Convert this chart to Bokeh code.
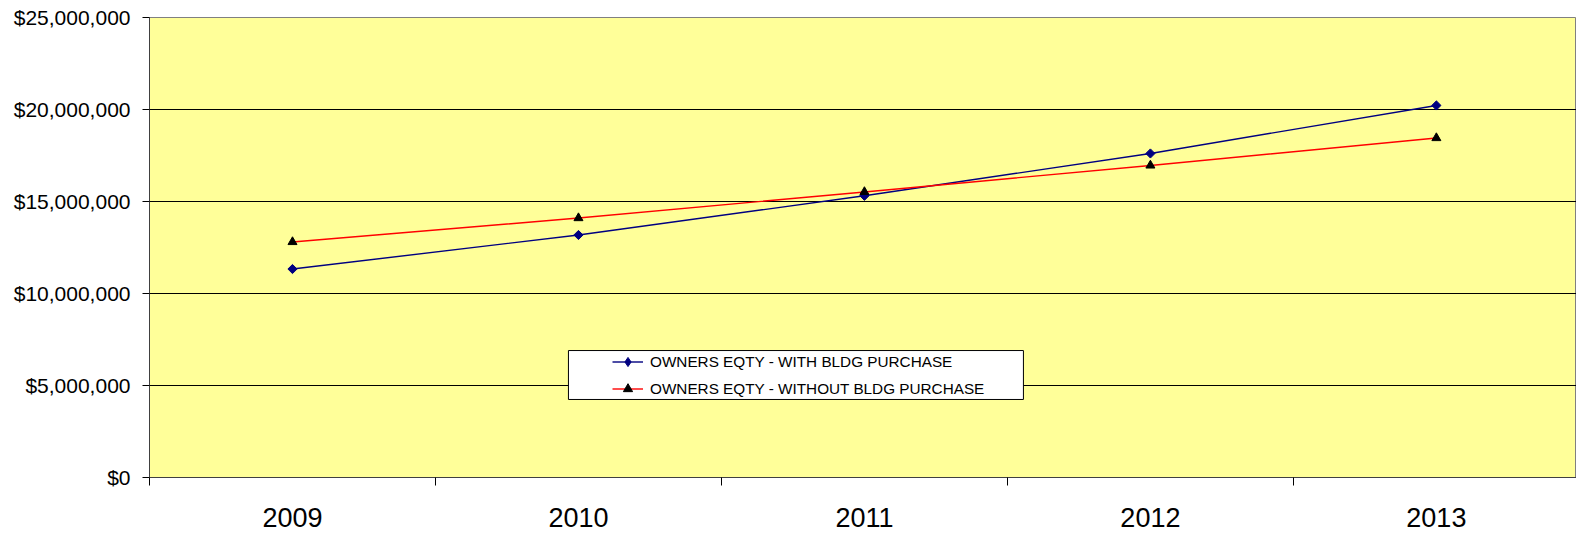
import math
from bokeh.plotting import figure
from bokeh.models import (Range1d, FixedTicker, NumeralTickFormatter, Legend, LegendItem,
                          BoxAnnotation)
from bokeh.embed import file_html
from bokeh.resources import INLINE

years = ["2009", "2010", "2011", "2012", "2013"]
with_bldg = [11330000, 13180000, 15310000, 17610000, 20220000]
without_bldg = [12800000, 14100000, 15520000, 16960000, 18450000]
y_ticks = [0, 5000000, 10000000, 15000000, 20000000, 25000000]

xs = [i + 0.5 for i in range(len(years))]

p = figure(width=1576, height=535, output_backend="svg", toolbar_location=None,
           x_range=Range1d(0, 4.99), y_range=Range1d(0, 25000000),
           min_border_left=149, min_border_right=0, min_border_top=17, min_border_bottom=58)
p.background_fill_color = "#FFFF99"
p.border_fill_color = "white"
p.outline_line_color = "#808080"

# x axis: labels at centers, tick marks at category boundaries (minor ticks)
xa = p.xaxis[0]
xa.ticker = FixedTicker(ticks=xs, minor_ticks=list(range(len(years) + 1)))
xa.major_label_overrides = {x: y for x, y in zip(xs, years)}
xa.major_tick_line_color = None
xa.minor_tick_in = 0
xa.minor_tick_out = 8
xa.minor_tick_line_color = "black"
xa.axis_line_color = "#404040"
xa.major_label_text_font = "Liberation Sans"
xa.major_label_text_font_size = "27px"
xa.major_label_text_color = "black"
xa.major_label_standoff = 22

ya = p.yaxis[0]
ya.ticker = FixedTicker(ticks=y_ticks, minor_ticks=[])
ya.formatter = NumeralTickFormatter(format="$0,0")
ya.major_tick_in = 0
ya.major_tick_out = 7
ya.major_tick_line_color = "black"
ya.axis_line_color = "#404040"
ya.major_label_text_font = "Liberation Sans"
ya.major_label_text_font_size = "21px"
ya.major_label_text_color = "black"
ya.major_label_standoff = 12

p.xgrid.grid_line_color = None
p.ygrid.ticker = FixedTicker(ticks=y_ticks[1:-1])
p.ygrid.grid_line_color = "black"
p.ygrid.grid_line_width = 1

l1 = p.line(xs, with_bldg, line_color="#000080", line_width=1.4)
# diamond used as the legend key (hidden beneath the first data marker)
m1_key = p.scatter(xs[:1], with_bldg[:1], marker="diamond", size=8,
                   fill_color="#000080", line_color="#000080")
m1 = p.scatter(xs, with_bldg, marker="square", size=6.5, angle=math.pi / 4,
               fill_color="#000080", line_color="#000080")
l2 = p.line(xs, without_bldg, line_color="#FF0000", line_width=1.4)
m2 = p.scatter(xs, without_bldg, marker="triangle", size=9, fill_color="black", line_color="black")

box = BoxAnnotation(left=1.465, right=3.056, top=6900000, bottom=4240000,
                    fill_color="white", fill_alpha=1, line_color="black", line_width=1,
                    line_alpha=1)
p.add_layout(box)

legend = Legend(items=[
    LegendItem(label="OWNERS EQTY - WITH BLDG PURCHASE", renderers=[l1, m1_key]),
    LegendItem(label="OWNERS EQTY - WITHOUT BLDG PURCHASE", renderers=[l2, m2]),
], location=(463, 77), padding=0, margin=0, spacing=4, label_height=20,
    glyph_width=31, glyph_height=23, label_standoff=7,
    label_text_font="Liberation Sans", label_text_font_size="15.3px",
    label_text_color="black",
    background_fill_alpha=0, border_line_color=None)
p.add_layout(legend)

open("out.html", "w").write(file_html(p, INLINE))
